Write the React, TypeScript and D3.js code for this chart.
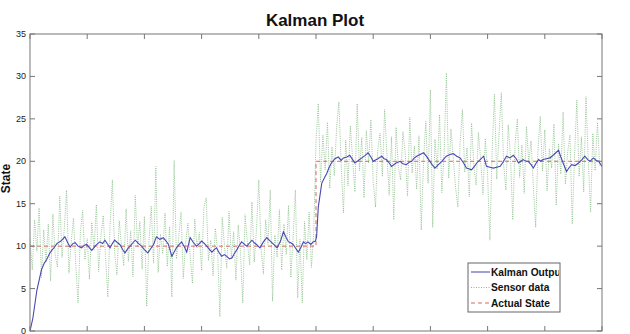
import React from 'react';
import * as d3 from 'd3';

// time steps of the Kalman filter output
const kalmanStep = [0, 5, 12, 20, 25, 29, 34, 38, 43, 47, 54, 61, 66, 70, 75, 79, 84, 90, 95, 99,
  104, 108, 115, 122, 127, 131, 136, 140, 144, 148, 153, 157, 162, 166, 171, 175, 180, 184, 190, 195,
  200, 206, 211, 216, 221, 227, 233, 238, 242, 248, 252, 256, 261, 265, 270, 274, 280, 286, 291, 296,
  300, 305, 309, 314, 318, 322, 326, 331, 335, 340, 344, 349, 353, 357, 361, 366, 370, 375, 379, 384,
  388, 392, 396, 402, 408, 414, 420, 426, 432, 438, 443, 448, 452, 456, 460, 465, 469, 474, 478, 482,
  486, 491, 495, 499, 501, 504, 510, 515, 519, 523, 527, 533, 539, 544, 548, 554, 559, 564, 568, 574,
  580, 586, 591, 596, 600, 608, 615, 619, 623, 628, 632, 640, 647, 652, 658, 663, 667, 672, 676, 682,
  688, 693, 697, 703, 708, 714, 720, 724, 728, 734, 740, 746, 752, 758, 763, 768, 772, 777, 781, 787,
  793, 798, 804, 810, 816, 822, 828, 833, 839, 845, 850, 854, 858, 862, 867, 871, 876, 880, 885, 889,
  893, 897, 903, 909, 916, 924, 928, 932, 938, 943, 947, 953, 959, 965, 970, 975, 979, 985, 990, 994, 1000];
const kalmanState = [0, 1.5, 4.8, 7.2, 8.0, 8.4, 9.1, 9.5, 9.9, 10.3, 10.6, 11.1, 10.4, 9.9, 10.3, 10.4, 10.0, 9.8, 10.1, 10.2,
  9.8, 9.5, 10.1, 10.5, 10.3, 10.7, 10.2, 9.8, 10.3, 10.7, 10.4, 10.2, 9.6, 9.2, 9.7, 10.0, 10.4, 10.7, 10.3, 10.0,
  9.6, 9.2, 9.7, 10.2, 11.1, 10.8, 11.0, 10.6, 10.2, 8.8, 9.3, 9.8, 10.2, 10.5, 9.9, 9.3, 11.0, 10.4, 10.0, 10.3,
  10.6, 10.3, 10.0, 9.6, 9.3, 9.6, 9.8, 9.2, 8.8, 9.0, 8.8, 8.5, 8.6, 9.1, 9.5, 10.1, 10.5, 10.2, 10.0, 10.4,
  10.7, 10.4, 10.2, 9.8, 10.5, 11.0, 10.6, 10.2, 9.8, 10.6, 11.7, 11.0, 10.5, 10.4, 10.2, 9.7, 9.3, 9.9, 10.5, 10.3,
  10.5, 10.2, 10.5, 10.6, 11.1, 14.6, 17.4, 18.1, 18.6, 19.3, 19.8, 20.3, 20.5, 20.1, 20.4, 20.5, 20.7, 20.2, 19.8, 20.1,
  20.4, 20.7, 21.0, 20.5, 20.0, 20.3, 20.6, 20.3, 20.2, 19.8, 19.4, 19.8, 20.0, 19.7, 19.6, 19.9, 20.0, 20.4, 20.6, 20.8,
  21.0, 20.6, 20.2, 19.6, 19.2, 19.6, 20.0, 20.3, 20.6, 20.8, 20.9, 20.6, 20.4, 19.8, 19.2, 19.1, 19.0, 19.4, 19.8, 20.2,
  20.6, 19.4, 19.3, 19.2, 19.3, 19.4, 20.0, 20.6, 20.4, 20.7, 20.3, 19.8, 20.0, 20.2, 20.0, 20.0, 19.6, 19.2, 19.8, 20.2,
  20.0, 20.2, 20.3, 20.4, 20.8, 21.3, 20.5, 19.8, 18.8, 19.3, 19.6, 19.5, 19.8, 20.2, 20.6, 20.2, 20.0, 20.4, 20.1, 20.0, 19.4];

// sensor readings, one every 4 steps
const sensorEvery = 4;
const sensorData = [
  10.8, 7.2, 13.1, 9.4, 14.5, 6.3, 11.9, 8.1, 12.6, 5.9,
  13.8, 9.0, 7.5, 15.9, 8.7, 12.2, 16.6, 6.8, 10.4, 13.3,
  7.9, 3.3, 11.5, 14.2, 8.4, 10.9, 6.1, 12.8, 9.6, 14.9,
  7.0, 11.2, 13.6, 8.8, 4.0, 12.4, 17.8, 9.3, 6.6, 13.0,
  10.1, 7.7, 14.4, 8.2, 11.8, 6.4, 16.0, 9.9, 12.9, 7.3,
  13.5, 2.9, 10.6, 14.7, 8.0, 19.4, 6.9, 11.4, 9.1, 13.9,
  7.6, 12.3, 4.0, 20.1, 8.5, 11.0, 14.0, 6.2, 10.3, 12.7,
  8.9, 5.6, 13.2, 9.8, 11.6, 7.1, 14.6, 15.7, 8.3, 10.7,
  6.5, 12.1, 9.5, 1.7, 13.4, 10.0, 7.4, 14.1, 8.6, 11.7,
  6.0, 12.5, 9.2, 3.3, 13.7, 10.5, 7.8, 15.2, 8.1, 12.0,
  17.8, 9.7, 6.7, 13.1, 10.2, 16.6, 3.5, 11.3, 8.7, 14.3,
  7.2, 12.6, 9.0, 14.8, 6.3, 11.1, 16.6, 3.9, 10.8, 3.3,
  12.9, 8.4, 14.0, 7.5, 11.6,
  22.4, 26.8, 17.5, 23.1, 19.0,
  24.6, 16.8, 21.7, 18.3, 23.9, 27.0, 19.6, 13.9, 22.5, 17.1,
  24.2, 20.3, 16.4, 26.8, 18.9, 22.8, 15.7, 23.6, 19.8, 24.9,
  17.6, 14.6, 21.4, 23.3, 18.2, 26.1, 20.7, 16.0, 22.9, 13.1,
  24.0, 19.3, 17.8, 23.5, 20.9, 15.9, 25.2, 18.6, 21.8, 16.7,
  23.0, 11.9, 20.1, 24.7, 17.4, 28.4, 12.2, 22.6, 19.1, 25.5,
  16.3, 21.0, 30.4, 18.0, 23.8, 20.4, 16.9, 14.6, 22.2, 26.1,
  18.7, 21.6, 15.8, 24.5, 19.4, 17.2, 23.4, 20.0, 16.1, 22.7,
  18.4, 10.7, 21.3, 27.9, 17.9, 23.2, 28.1, 19.7, 16.6, 24.3,
  20.5, 13.1, 22.0, 25.0, 18.1, 21.9, 16.2, 24.1, 19.9, 22.4,
  17.0, 12.2, 21.2, 25.3, 18.8, 23.7, 16.5, 21.5, 19.2, 24.4,
  14.8, 22.1, 18.5, 25.8, 17.3, 21.1, 23.1, 12.6, 20.6, 27.2,
  18.2, 22.9, 16.4, 27.6, 20.2, 14.0, 23.3, 18.9, 24.6, 19.5,
];

// true state (step change at 500)
const actualStep = [0, 500, 500, 1000];
const actualState = [10, 10, 20, 20];

const xTicks = [0, 100, 200, 300, 400, 500, 600, 700, 800, 900, 1000];
const yTicks = [0, 5, 10, 15, 20, 25, 30, 35];
const legendLabels = ['Kalman Output', 'Sensor data', 'Actual State'];

const W = 630, H = 334;
const left = 30, right = 602, top = 34, bottom = 331;
const font = 'Arial, "Liberation Sans", Helvetica, sans-serif';

export default function App() {
  const x = d3.scaleLinear().domain([0, 1000]).range([left, right]);
  const y = d3.scaleLinear().domain([0, 35]).range([bottom, top]);

  const line = d3.line<[number, number]>().x(d => x(d[0])).y(d => y(d[1]));

  const kalman = kalmanStep.map((s, i) => [s, kalmanState[i]] as [number, number]);
  const sensor = sensorData.map((v, i) => [i * sensorEvery, v] as [number, number]);
  const actual = actualStep.map((s, i) => [s, actualState[i]] as [number, number]);

  const tick = 5;
  const legend = { x: 468, y: 263, w: 92, h: 49 };
  const legendStyles = [
    { stroke: '#5050b4', dash: 'none', width: 1.1 },
    { stroke: '#88bb88', dash: '1,1.5', width: 1 },
    { stroke: '#d46a5a', dash: '4,3', width: 1 },
  ];

  return (
    <div style={{ position: 'absolute', left: 0, top: 0 }}>
      <svg width={W} height={H} style={{ display: 'block', background: '#fff' }}>
        <defs>
          <clipPath id="plotClip">
            <rect x={left} y={top} width={right - left} height={bottom - top} />
          </clipPath>
          <clipPath id="legClip">
            <rect x={legend.x} y={legend.y} width={legend.w - 1} height={legend.h} />
          </clipPath>
        </defs>

        <text x={315} y={26} textAnchor="middle" fontFamily={font} fontWeight="bold" fontSize={17} fill="#111">
          Kalman Plot
        </text>

        <g clipPath="url(#plotClip)">
          <path d={line(sensor) || ''} fill="none" stroke="#88bb88" strokeWidth={0.85} strokeDasharray="1,1.2" />
          <path d={line(actual) || ''} fill="none" stroke="#d46a5a" strokeWidth={1} strokeDasharray="4,3" />
          <path d={line(kalman) || ''} fill="none" stroke="#4848b0" strokeWidth={1.1} />
        </g>

        {/* frame */}
        <rect x={left} y={top} width={right - left} height={bottom - top} fill="none" stroke="#777" strokeWidth={1} />

        {/* ticks, inward on all sides */}
        {xTicks.map(t => (
          <g key={'x' + t}>
            <line x1={x(t)} x2={x(t)} y1={bottom} y2={bottom - tick} stroke="#777" />
            <line x1={x(t)} x2={x(t)} y1={top} y2={top + tick} stroke="#777" />
            <text x={x(t)} y={bottom + 9} textAnchor="middle" fontFamily={font} fontSize={9} fill="#333">{t}</text>
          </g>
        ))}
        {yTicks.map(t => (
          <g key={'y' + t}>
            <line x1={left} x2={left + tick} y1={y(t)} y2={y(t)} stroke="#777" />
            <line x1={right} x2={right - tick} y1={y(t)} y2={y(t)} stroke="#777" />
            <text x={left - 4} y={y(t) + 3} textAnchor="end" fontFamily={font} fontSize={9} fill="#222">{t}</text>
          </g>
        ))}

        <text transform={`translate(10,${(top + bottom) / 2 - 4}) rotate(-90)`} textAnchor="middle"
          fontFamily={font} fontWeight="bold" fontSize={12} fill="#111">
          State
        </text>

        {/* legend */}
        <rect x={legend.x} y={legend.y} width={legend.w} height={legend.h} fill="#fff" stroke="#666" />
        <g clipPath="url(#legClip)">
          {legendLabels.map((lab, i) => {
            const ly = legend.y + 9 + i * 15.5;
            const st = legendStyles[i];
            return (
              <g key={lab}>
                <line x1={legend.x + 3} x2={legend.x + 22} y1={ly} y2={ly} stroke={st.stroke}
                  strokeWidth={st.width} strokeDasharray={st.dash} />
                <text x={legend.x + 23} y={ly + 3.5} fontFamily={font} fontWeight="bold" fontSize={10.2} fill="#111">{lab}</text>
              </g>
            );
          })}
        </g>
      </svg>
    </div>
  );
}
